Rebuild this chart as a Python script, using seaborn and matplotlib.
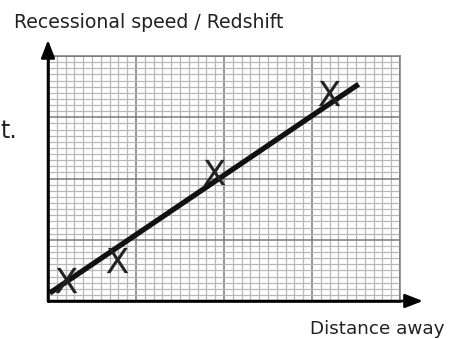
import numpy as np
import pandas as pd
import matplotlib
matplotlib.use("Agg")
import matplotlib.pyplot as plt
from matplotlib.ticker import MultipleLocator
import seaborn as sns

# Measured galaxies (graph-paper units) and the hand-drawn line of best fit
distance = [2.0, 7.8, 18.9, 31.9]
speed = [3.4, 6.7, 21.1, 34.0]
fit_distance = [0.2, 35.3]
fit_speed = [1.3, 35.4]

y_label = "Recessional speed / Redshift"
x_label = "Distance away"

sns.set_theme(style="white")
plt.rcParams["font.family"] = ["DejaVu Sans"]

fig = plt.figure(figsize=(4.52, 3.39), dpi=100)
ax = fig.add_axes([48 / 452, 38 / 339, 352 / 452, 245 / 339])

# graph paper
ax.set_xlim(0, 40)
ax.set_ylim(0, 40)
ax.xaxis.set_major_locator(MultipleLocator(10))
ax.yaxis.set_major_locator(MultipleLocator(10))
ax.xaxis.set_minor_locator(MultipleLocator(1))
ax.yaxis.set_minor_locator(MultipleLocator(1))
ax.grid(which="minor", color="#b8b8b8", linewidth=0.9)
ax.grid(which="major", color="#7a7a7a", linewidth=1.1)
ax.set_axisbelow(True)
ax.tick_params(which="both", length=0, labelbottom=False, labelleft=False)
for side in ("top", "right"):
    ax.spines[side].set_color("#7a7a7a")
    ax.spines[side].set_linewidth(1.1)
for side in ("left", "bottom"):
    ax.spines[side].set_color("black")
    ax.spines[side].set_linewidth(1.8)

fit = pd.DataFrame({"d": fit_distance, "v": fit_speed})
pts = pd.DataFrame({"d": distance, "v": speed})
sns.lineplot(data=fit, x="d", y="v", ax=ax, color="#111111", linewidth=3.8,
             solid_capstyle="butt", zorder=3)
sns.scatterplot(data=pts, x="d", y="v", ax=ax, marker=r"$\mathsf{X}$", s=330,
                color="#222222", linewidth=0, zorder=4)
ax.set_xlabel("")
ax.set_ylabel("")

# axis arrows
arrow = dict(arrowstyle="-|>,head_length=0.9,head_width=0.35", color="black",
             lw=1.8, shrinkA=0, shrinkB=0)
ax.annotate("", xy=(0, 1.065), xytext=(0, 0), xycoords="axes fraction",
            textcoords="axes fraction", arrowprops=arrow, annotation_clip=False)
ax.annotate("", xy=(1.065, 0), xytext=(0, 0), xycoords="axes fraction",
            textcoords="axes fraction", arrowprops=arrow, annotation_clip=False)

fig.text(14 / 452, 1 - 28 / 339, y_label, fontsize=13.6, color="#222222",
         va="baseline", ha="left")
fig.text(445 / 452, 1 - 334 / 339, x_label, fontsize=13.2, color="#222222",
         va="baseline", ha="right")
fig.text(0.5 / 452, 1 - 138 / 339, "t.", fontsize=17, color="#222222",
         va="baseline", ha="left")

fig.savefig("out.png", dpi=100)
